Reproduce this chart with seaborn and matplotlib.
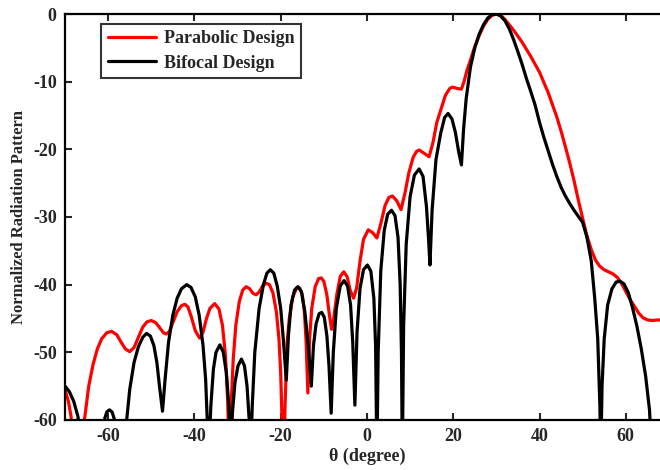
import numpy as np
import pandas as pd
import matplotlib
matplotlib.use("Agg")
import matplotlib.pyplot as plt
import seaborn as sns

# Parabolic design (red)
theta_parabolic = [
    -70, -69.2, -68.6, -68, -67, -66, -65.5, -64.5, -63.5, -62.5, -61.5, -60.3, -59.2, -58, -57, -56, -55,
    -54, -53, -52, -51, -50, -49, -48, -47.2, -46.5, -45.8, -45, -44, -43, -42.2, -41.5, -40.7, -39.8,
    -38.8, -38, -37.2, -36.4, -35.3, -34.3, -33.5, -32.8, -32.3, -31.9, -31.5, -31, -30.4, -29.6, -28.8,
    -28, -27.2, -26.4, -25.7, -25, -24.2, -23.4, -22.6, -21.8, -21, -20.4, -20, -19.6, -19.35, -19,
    -18.5, -18, -17.2, -16.2, -15.6, -15, -14.5, -14.1, -13.7, -13.3, -12.8, -12, -11.2, -10.6, -10,
    -9.3, -8.7, -8.2, -7.7, -7, -6.2, -5.4, -4.6, -3.9, -3.1, -2.4, -1.6, -0.8, 0.3, 1.3, 2.3, 3.2, 4.2,
    5.1, 5.9, 6.9, 7.9, 8.8, 9.7, 10.7, 11.5, 12.1, 13.3, 14.4, 15.3, 16.2, 17.1, 18.2, 19.2, 19.8,
    20.9, 21.9, 22.5, 23.2, 24, 25, 26, 27, 28, 29, 30.1, 31, 32, 34, 36, 38, 40, 42, 44, 45, 46, 47,
    48, 49, 50, 51, 52, 53, 54, 55, 56, 57, 58, 59, 60, 61, 62, 63, 64, 65, 66, 68,
]
db_parabolic = [
    -55.5, -57.3, -59.5, -64, -72, -64, -60, -55, -51.8, -49.5, -48, -47.1, -46.9, -47.4, -48.5, -49.5, -49.9,
    -49.3, -47.8, -46.3, -45.5, -45.3, -45.6, -46.4, -47.1, -47.3, -46.9, -45.6, -44, -43.1, -42.9, -43.3, -44.8, -46.8,
    -47.9, -47, -45, -43.5, -42.8, -43.6, -46, -50.5, -57, -66, -58, -51, -46, -42.5, -40.8,
    -40.3, -40.6, -41.3, -41.5, -41.1, -40.2, -39.8, -40.0, -41.2, -44, -48, -53, -62, -72, -58,
    -48.5, -45, -41.8, -40.4, -40.5, -41.5, -44, -48.5, -56, -48, -43.5, -40.3, -39.1, -39.0, -39.5,
    -41.5, -44.5, -46.6, -45, -41.5, -38.8, -38.1, -38.8, -40.8, -42.0, -40.5, -36.5, -33.3, -31.9, -32.3, -33.1, -31.0, -28.3,
    -27.1, -26.9, -27.6, -28.9, -26.5, -23.5, -21.2, -20.3, -20.1, -20.6, -21.1, -19, -16, -14.2, -12.0, -11.0, -10.8,
    -11.0, -11.1, -10, -8.3, -6.8, -4.8, -3.2, -1.8, -0.8, -0.2, 0, -0.2, -0.8, -2.4, -4.2, -6.3, -8.6, -11.6, -15.2, -17.3, -19.6, -22,
    -24.6, -27.5, -30.2, -32.8, -34.8, -36.4, -37.3, -37.8, -38.1, -38.4, -38.9, -39.8, -41, -42.2, -43.2, -44.2, -44.9, -45.2, -45.3, -45.2,
]

# Bifocal design (black)
theta_bifocal = [
    -70, -69, -68, -67, -66.2, -66, -63.5, -61.2, -60.8, -60.3, -59.7, -59.1, -58.6, -58.2, -57, -56.3,
    -55.7, -55, -54, -53, -52, -51.1, -50.2, -49.4, -48.7, -48.1, -47.4,
    -46.8, -46, -45, -44, -43, -41.8, -40.8, -39.8, -38.9, -38, -37.4, -36.9, -36.7,
    -36.2, -35.6, -35, -34.1, -33.3, -32.6, -32, -31.6,
    -31.2, -30.6, -29.9, -29.1, -28.4, -27.8, -27.3, -27,
    -26.6, -26, -25, -24, -23.2, -22.4, -21.6, -20.8, -20, -19.4, -18.7,
    -18.2, -17.6, -16.8, -16, -15.2, -14.4, -13.6, -12.9,
    -12.4, -11.8, -11.1, -10.5, -9.9, -9.3, -8.8, -8.3,
    -7.8, -7.1, -6.2, -5.3, -4.5, -3.8, -3.3, -2.8,
    -2.3, -1.6, -0.8, 0.1, 0.9, 1.6, 2.0, 2.3,
    2.6, 3.2, 4, 4.8, 5.7, 6.5, 7.2, 7.7, 8.0, 8.2,
    8.5, 9.1, 10, 11, 12.1, 13, 13.8, 14.3, 14.6,
    15.1, 16, 17.1, 18, 18.8, 19.7, 20.5, 21.3, 21.9,
    22.4, 23, 24, 25, 26, 27, 28, 29, 30, 31, 32, 33, 34, 35, 36, 37, 38, 39, 40, 41, 42, 43, 44, 45,
    46, 47, 48, 49, 50, 51, 52, 52.8, 53.5, 54, 54.2,
    54.5, 55, 55.8, 56.8, 57.8, 58.7, 59.6, 60.6, 61.6, 62.6, 63.6, 64.6, 65.5, 66.1, 68,
]
db_bifocal = [
    -55.0, -55.8, -57.2, -59.5, -64, -75, -68, -61, -59.8, -58.8, -58.5, -58.8, -59.8, -62, -68, -66,
    -60, -55.5, -51.5, -49.2, -47.8, -47.2, -47.6, -49.0, -51.5, -55, -58.7,
    -54, -48.5, -44.5, -42, -40.6, -40.0, -40.4, -41.8, -44.5, -49, -54, -62, -66,
    -58, -52.5, -50, -48.9, -50, -53, -58, -66,
    -59, -54.5, -52, -51, -52, -55, -60, -66,
    -58, -50, -43.5, -40, -38.3, -37.8, -38.3, -40.2, -43.5, -48, -54.1,
    -47.5, -43, -40.8, -40.3, -41, -44, -49, -55,
    -49, -45.8, -44.3, -44.1, -44.8, -47.5, -52, -59,
    -50, -43.5, -40.2, -39.4, -40.2, -43, -48.5, -57.8,
    -47, -40.5, -37.8, -37.1, -38, -42, -49, -66,
    -50, -38, -32, -29.6, -29.0, -29.8, -33, -40, -50, -66,
    -46, -34, -27, -23.8, -22.9, -24, -28.5, -33.5, -37.1,
    -29, -21.5, -17.6, -15.3, -14.7, -15.5, -17.5, -20.5, -22.3,
    -17, -12.5, -7.8, -5, -3, -1.6, -0.6, -0.1, 0, -0.3, -1.0, -2.2, -3.8, -5.6, -7.5, -9.6, -11.5, -13.5, -16, -18.2, -20.2, -22.2, -24.0, -25.6,
    -26.9, -28.0, -29.0, -29.9, -30.8, -33, -36.5, -42, -48, -58, -66,
    -55, -48, -43, -40.6, -39.6, -39.5, -39.9, -41.2, -43.5, -46.2, -49.5, -53.5, -58.5, -66, -66,
]

df = pd.concat([
    pd.DataFrame({"theta": theta_parabolic, "db": db_parabolic, "design": "Parabolic Design"}),
    pd.DataFrame({"theta": theta_bifocal, "db": db_bifocal, "design": "Bifocal Design"}),
])

sns.set_style("ticks")
plt.rcParams['font.family'] = ['Liberation Serif', 'DejaVu Serif']
plt.rcParams['font.weight'] = 'bold'
plt.rcParams['axes.unicode_minus'] = False

fig = plt.figure(figsize=(6.6, 4.7), dpi=100)
ax = fig.add_axes([0.0985, 0.1064, 0.915, 0.8638])

sns.lineplot(data=df, x="theta", y="db", hue="design", sort=False,
             palette={"Parabolic Design": "#ff0000", "Bifocal Design": "black"},
             hue_order=["Parabolic Design", "Bifocal Design"],
             linewidth=2.3, estimator=None, ax=ax)

ax.set_xlim(-70, 70)
ax.set_ylim(-60, 0)
ax.set_xticks([-60, -40, -20, 0, 20, 40, 60])
ax.set_yticks([-60, -50, -40, -30, -20, -10, 0])
ax.tick_params(direction='in', length=5, width=1.5, labelsize=13, top=True, right=True, pad=6)
for lab in ax.get_xticklabels() + ax.get_yticklabels():
    lab.set_fontweight('bold')
for sp in ax.spines.values():
    sp.set_linewidth(1.6)
    sp.set_color('black')

ax.set_xlabel("θ (degree)", fontsize=13, fontweight='bold', labelpad=2)
ax.set_ylabel("Normalized Radiation Pattern", fontsize=12, fontweight='bold', labelpad=4)

leg = ax.legend(loc='upper left', bbox_to_anchor=(0.06, 0.975), borderaxespad=0, fontsize=13,
                frameon=True, fancybox=False, edgecolor='black', handlelength=2.7, borderpad=0.35,
                labelspacing=0.4, handletextpad=0.45)
leg.get_frame().set_linewidth(1.5)
for t in leg.get_texts():
    t.set_fontweight('bold')

fig.savefig("out.png", dpi=100)
